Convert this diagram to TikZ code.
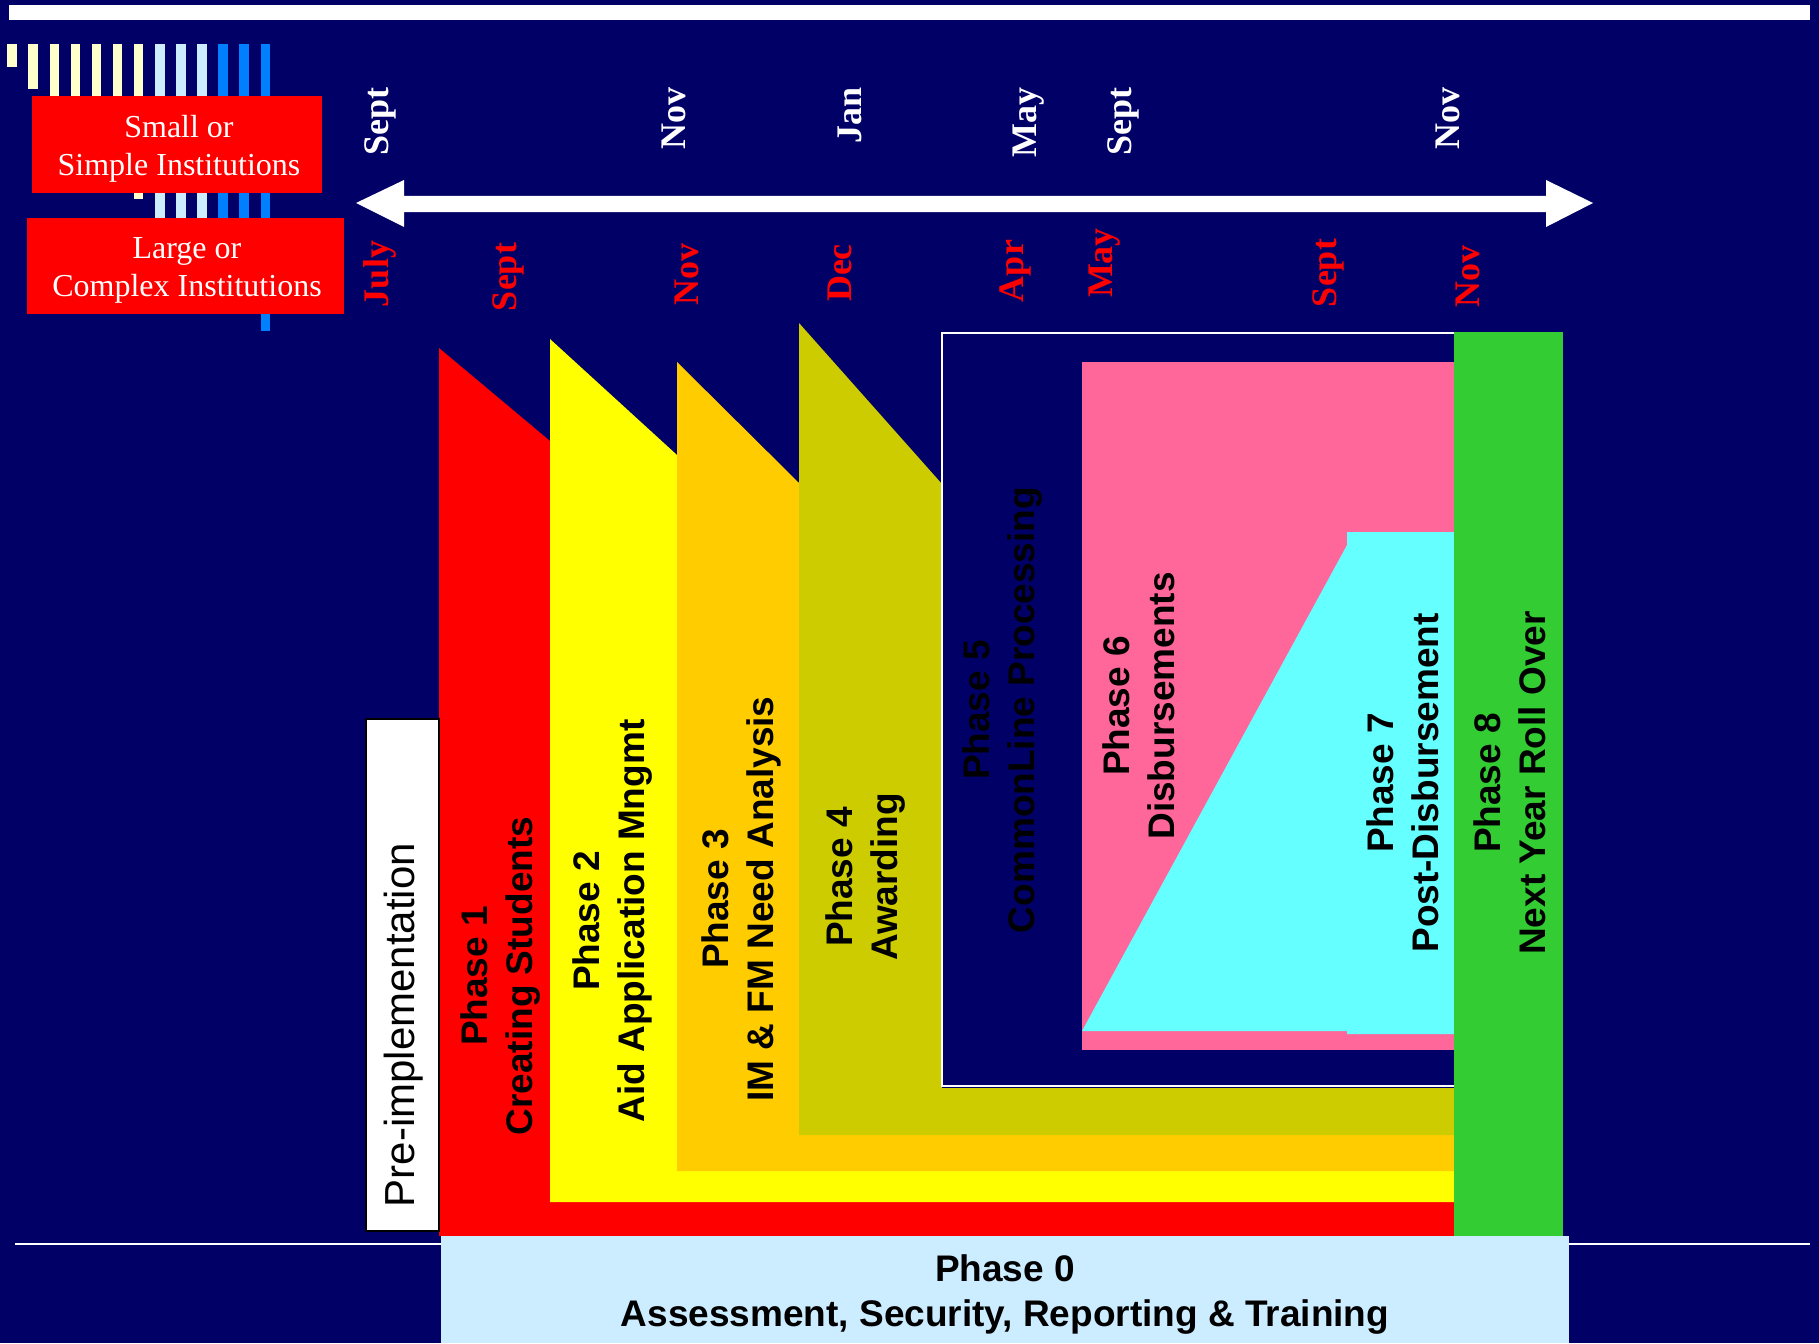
\documentclass[tikz,border=0pt]{standalone}
\usepackage{fontspec}
\setmainfont{Liberation Serif}
\setsansfont{Liberation Sans}
\definecolor{navy}{HTML}{000066}
\definecolor{cream}{HTML}{FFFFCC}
\definecolor{lblue}{HTML}{CCECFF}
\definecolor{bblue}{HTML}{0080FF}
\definecolor{pred}{HTML}{FF0000}
\definecolor{pyellow}{HTML}{FFFF00}
\definecolor{porange}{HTML}{FFCC00}
\definecolor{polive}{HTML}{CCCC00}
\definecolor{ppink}{HTML}{FF6699}
\definecolor{pcyan}{HTML}{66FFFF}
\definecolor{pgreen}{HTML}{33CC33}
\definecolor{pzero}{HTML}{CCECFF}
\begin{document}
\begin{tikzpicture}[x=1pt,y=-1pt,
  phasetxt/.style={font=\sffamily\bfseries\fontsize{37}{45}\selectfont, align=center, rotate=90, inner sep=0pt, text=black},
  topmonth/.style={font=\rmfamily\bfseries\fontsize{36}{40}\selectfont, text=white, rotate=90, anchor=east, inner sep=0pt},
  botmonth/.style={font=\rmfamily\bfseries\fontsize{36}{40}\selectfont, text=pred, rotate=90, inner sep=0pt},
  insttxt/.style={font=\rmfamily\fontsize{32}{38}\selectfont, text=white, align=center, inner sep=0pt},
  redbox/.style={fill=pred, draw=none}]
\useasboundingbox (0,0) rectangle (1819,1343);
\fill[navy] (0,0) rectangle (1819,1343);
% top white bar
\fill[white] (9,5) rectangle (1810,20);
% bottom rule
\draw[white, line width=2.5pt] (15,1244) -- (1810,1244);
% stair bars
\foreach \i/\c in {0/cream,1/cream,2/cream,3/cream,4/cream,5/cream,6/cream,7/lblue,8/lblue,9/lblue,10/bblue,11/bblue,12/bblue}
  \fill[\c] ({7.3+21.1*\i},44) rectangle ({16.8+21.1*\i},{67+22*\i});
% institution boxes
\fill[redbox] (32,96) rectangle (322,193);
\node[insttxt] (small) at (179,149) {Small or\\Simple Institutions};
\fill[redbox] (27,218) rectangle (344,314);
\node[insttxt] (large) at (187,270) {Large or\\Complex Institutions};
% double arrow
\fill[white] (356,203) -- (404,180) -- (404,196) -- (1546,196) -- (1546,180) -- (1593,203)
  -- (1546,227) -- (1546,212) -- (404,212) -- (404,227) -- cycle;
% month labels
\node[topmonth] (t1) at (380,87) {Sept};
\node[topmonth] (t2) at (674,87) {Nov};
\node[topmonth] (t3) at (850,87) {Jan};
\node[topmonth] (t4) at (1029,87) {May};
\node[topmonth] (t5) at (1123,87) {Sept};
\node[topmonth] (t6) at (1448,87) {Nov};
\node[botmonth] (b1) at (380,274) {July};
\node[botmonth] (b2) at (508,277) {Sept};
\node[botmonth] (b3) at (687,274) {Nov};
\node[botmonth] (b4) at (840,273) {Dec};
\node[botmonth] (b5) at (1015,271) {Apr};
\node[botmonth] (b6) at (1105,263) {May};
\node[botmonth] (b7) at (1328,273) {Sept};
\node[botmonth] (b8) at (1468,276) {Nov};
% phase shapes
\fill[pred] (439,348) -- (550,441) -- (553,441) -- (553,1199) -- (1456,1199) -- (1456,1236) -- (439,1236) -- cycle;
\fill[pyellow] (550,339) -- (677,455) -- (680,455) -- (680,1168) -- (1456,1168) -- (1456,1202) -- (550,1202) -- cycle;
\fill[porange] (677,362) -- (799,483) -- (802,483) -- (802,1132) -- (1456,1132) -- (1456,1171) -- (677,1171) -- cycle;
\fill[polive] (799,323) -- (942,484) -- (942,1088) -- (1456,1088) -- (1456,1135) -- (799,1135) -- cycle;
\draw[white, line width=2pt, fill=navy] (942,333) rectangle (1470,1086);
\fill[ppink] (1082,362) rectangle (1456,1050);
\fill[pcyan] (1082,1031) -- (1347,545) -- (1347,532) -- (1456,532) -- (1456,1034) -- (1347,1034) -- (1347,1031) -- cycle;
\fill[pgreen] (1454,332) rectangle (1563,1236);
% pre-implementation
\node[draw=black, line width=2pt, fill=white, minimum width=73pt, minimum height=512pt, inner sep=0pt] (pre) at (402.5,975) {};
\node[font=\sffamily\fontsize{42}{48}\selectfont, rotate=90, inner sep=0pt] (pretxt) at (404,1025) {Pre-implementation};
% phase 0
\fill[pzero] (441,1236) rectangle (1569,1343);
\node[font=\sffamily\bfseries\fontsize{37}{45}\selectfont, align=center, inner sep=0pt] (p0) at (1005,1294) {Phase 0\\Assessment, Security, Reporting \& Training};
% phase texts
\node[phasetxt] (p1) at (501,976) {Phase 1\\Creating Students};
\node[phasetxt] (p2) at (613,921) {Phase 2\\Aid Application Mngmt};
\node[phasetxt] (p3) at (741,899) {Phase 3\\IM \& FM Need Analysis};
\node[phasetxt] (p4) at (866,877) {Phase 4\\Awarding};
\node[phasetxt] (p5) at (1002,710) {Phase 5\\CommonLine Processing};
\node[phasetxt] (p6) at (1139,706) {Phase 6\\Disbursements};
\node[phasetxt] (p7) at (1403,783) {Phase 7\\Post-Disbursement};
\node[phasetxt] (p8) at (1510,783) {Phase 8\\Next Year Roll Over};
\end{tikzpicture}
\end{document}
